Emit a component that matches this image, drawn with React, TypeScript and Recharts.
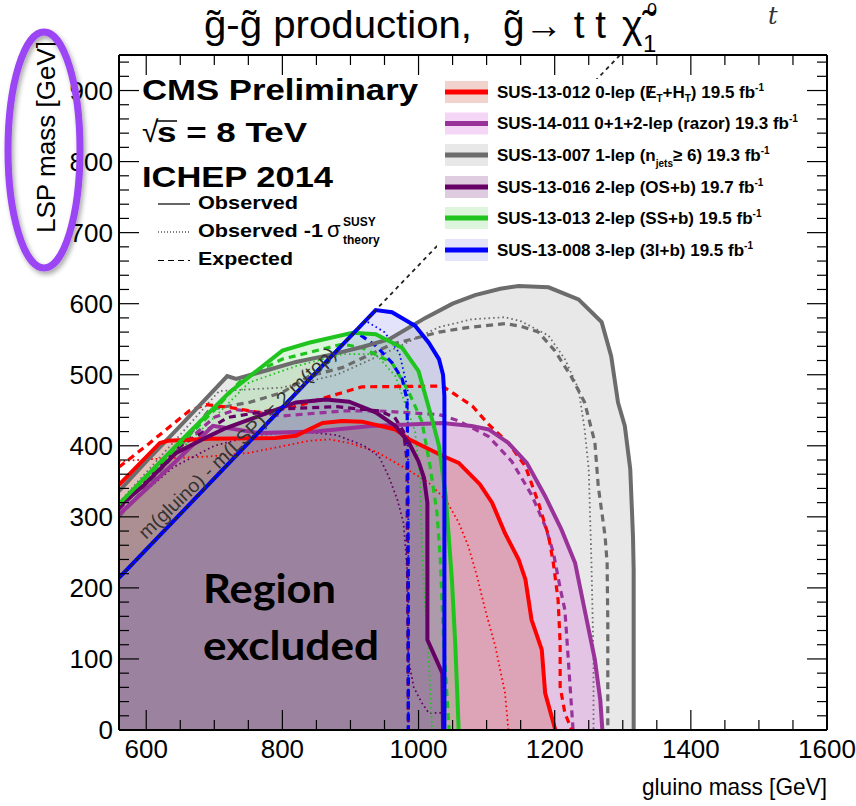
import { ComposedChart, Area, Line, XAxis, YAxis } from "recharts";

type P = [number, number];

// gluino mass, LSP mass pairs
const grayObs: P[] = [[560, 336], [600, 378], [650, 428], [719, 498], [732, 494], [780, 507], [820, 518], [870, 528], [917, 539], [957, 550], [1010, 580], [1050, 600], [1083, 612], [1120, 621], [1147, 625], [1191, 623], [1235, 606], [1269, 574], [1283, 526], [1293, 461], [1303, 428], [1311, 367], [1315, 273], [1316, 226], [1316, 0]];
const grayExp: P[] = [[560, 300], [630, 375], [693, 451], [751, 461], [800, 475], [839, 498], [888, 510], [961, 543], [1030, 560], [1069, 566], [1127, 572], [1151, 568], [1176, 560], [1200, 534], [1224, 498], [1244, 461], [1259, 405], [1264, 343], [1274, 273], [1277, 235], [1278, 150], [1278, 0]];
const grayDot: P[] = [[560, 320], [640, 405], [707, 477], [800, 482], [880, 500], [950, 530], [1030, 567], [1078, 578], [1127, 581], [1151, 575], [1191, 555], [1215, 522], [1235, 480], [1244, 423], [1250, 367], [1254, 235], [1257, 100], [1257, 0]];

const redObs: P[] = [[560, 345], [620, 404], [632, 407], [693, 410], [790, 411], [820, 414], [859, 432], [888, 435], [917, 434], [966, 423], [986, 409], [1035, 386], [1059, 376], [1090, 346], [1108, 320], [1127, 277], [1147, 240], [1157, 212], [1166, 155], [1181, 113], [1186, 52], [1201, 0]];
const redExp: P[] = [[560, 370], [600, 400], [627, 421], [663, 449], [688, 458], [722, 454], [766, 447], [815, 454], [878, 472], [917, 483], [1035, 484], [1054, 472], [1079, 456], [1103, 430], [1132, 404], [1157, 371], [1176, 320], [1191, 273], [1198, 235], [1205, 183], [1208, 122], [1208, 61], [1215, 24], [1225, 0]];
const redDot: P[] = [[560, 378], [600, 381], [693, 385], [751, 390], [839, 407], [869, 409], [898, 404], [937, 392], [976, 371], [1015, 348], [1040, 324], [1059, 292], [1073, 259], [1086, 216], [1098, 169], [1113, 117], [1127, 52], [1132, 0]];

const purpleObs: P[] = [[560, 303], [640, 375], [698, 428], [766, 418], [849, 420], [930, 428], [986, 430], [1035, 432], [1078, 428], [1103, 423], [1132, 404], [1159, 376], [1186, 329], [1210, 282], [1230, 235], [1244, 169], [1259, 99], [1267, 42], [1270, 0]];
const purpleExp: P[] = [[560, 310], [640, 390], [700, 440], [732, 451], [800, 442], [888, 449], [942, 449], [1030, 444], [1059, 435], [1103, 413], [1137, 378], [1166, 331], [1186, 287], [1198, 250], [1208, 200], [1215, 169], [1220, 99], [1224, 42], [1227, 0]];

const dpObs: P[] = [[560, 315], [595, 343], [644, 390], [693, 414], [717, 425], [766, 442], [820, 461], [864, 465], [898, 462], [937, 447], [966, 428], [986, 404], [1000, 378], [1008, 355], [1013, 320], [1013, 127], [1035, 80], [1036, 0]];
const dpExp: P[] = [[560, 312], [650, 400], [720, 440], [800, 452], [880, 455], [942, 449], [965, 440], [978, 420], [983, 380], [984, 200], [985, 0]];
const dpDot: P[] = [[560, 305], [640, 370], [700, 400], [760, 415], [830, 420], [880, 415], [920, 400], [942, 385], [956, 357], [969, 324], [978, 291], [983, 230], [985, 100], [993, 60], [1005, 38], [1015, 24], [1036, 24]];

const greenObs: P[] = [[560, 318], [658, 414], [722, 475], [800, 534], [839, 545], [903, 559], [937, 557], [976, 538], [1000, 505], [1020, 437], [1030, 400], [1040, 329], [1049, 212], [1054, 120], [1059, 0]];
const greenExp: P[] = [[560, 316], [700, 450], [741, 494], [800, 522], [888, 543], [917, 538], [961, 517], [986, 475], [1005, 434], [1017, 371], [1027, 306], [1032, 240], [1037, 122], [1044, 14], [1045, 0]];
const greenDot: P[] = [[560, 312], [700, 440], [751, 489], [820, 512], [888, 529], [937, 529], [966, 498], [980, 460], [995, 420], [1002, 353], [1005, 259], [1008, 200], [1015, 99], [1020, 0]];

const blueObs: P[] = [[560, 214], [937, 591], [961, 588], [995, 569], [1015, 545], [1030, 522], [1036, 500], [1038, 470], [1038, 0]];
const blueExp: P[] = [[560, 214], [907, 561], [937, 541], [961, 517], [976, 494], [983, 465], [984, 400], [985, 212], [985, 0]];
const blueDot: P[] = [[560, 214], [922, 576], [950, 560], [972, 530], [984, 480], [985, 300], [985, 0]];

// m(gluino) - m(LSP) = 2 m(top)
const diagonal: P[] = [[560, 214], [1296, 950]];

const xTicks = [600, 650, 700, 750, 800, 850, 900, 950, 1000, 1050, 1100, 1150, 1200, 1250, 1300, 1350, 1400, 1450, 1500, 1550, 1600];
const yTicks = [0, 20, 40, 60, 80, 100, 120, 140, 160, 180, 200, 220, 240, 260, 280, 300, 320, 340, 360, 380, 400, 420, 440, 460, 480, 500, 520, 540, 560, 580, 600, 620, 640, 660, 680, 700, 720, 740, 760, 780, 800, 820, 840, 860, 880, 900, 920, 940];

const series = [
  { key: "gray", line: "#6c6c6c", fill: "rgba(128,128,128,0.18)", obs: grayObs, exp: grayExp, dot: grayDot },
  { key: "purple", line: "#993399", fill: "rgba(215,70,215,0.22)", obs: purpleObs, exp: purpleExp, dot: null },
  { key: "red", line: "#ff0000", fill: "rgba(200,60,40,0.23)", obs: redObs, exp: redExp, dot: redDot },
  { key: "dp", line: "#660066", fill: "rgba(102,0,102,0.2)", obs: dpObs, exp: dpExp, dot: dpDot },
  { key: "green", line: "#1fc41f", fill: "rgba(60,200,60,0.18)", obs: greenObs, exp: greenExp, dot: greenDot },
  { key: "blue", line: "#0000ff", fill: "rgba(70,70,230,0.15)", obs: blueObs, exp: blueExp, dot: blueDot },
];

const legendRows = [
  { c: "red", y: 92 },
  { c: "purple", y: 123.5 },
  { c: "gray", y: 155 },
  { c: "dp", y: 187 },
  { c: "green", y: 218 },
  { c: "blue", y: 250 },
];

const FONT = "'Liberation Sans', Arial, Helvetica, sans-serif";
const pts = (a: P[]) => a.map(([x, y]) => ({ x, y }));
const byKey = (k: string) => series.find((s) => s.key === k)!;

const BottomTick = (p: any) => {
  const v = p.payload.value;
  const major = v % 200 === 0;
  return (
    <g>
      <line x1={p.x} x2={p.x} y1={p.y} y2={p.y - (major ? 20 : 10)} stroke="#000" strokeWidth={1.2} />
      {major && (
        <text x={p.x} y={p.y + 28} textAnchor="middle" fontSize={26} fontFamily={FONT} fill="#000">
          {v}
        </text>
      )}
    </g>
  );
};
const TopTick = (p: any) => {
  const major = p.payload.value % 200 === 0;
  return <line x1={p.x} x2={p.x} y1={p.y} y2={p.y + (major ? 20 : 10)} stroke="#000" strokeWidth={1.2} />;
};
const LeftTick = (p: any) => {
  const v = p.payload.value;
  const major = v % 100 === 0;
  return (
    <g>
      <line x1={p.x} x2={p.x + (major ? 20 : 10)} y1={p.y} y2={p.y} stroke="#000" strokeWidth={1.2} />
      {major && (
        <text x={113} y={p.y + 9} textAnchor="end" fontSize={26} fontFamily={FONT} fill="#000">
          {v}
        </text>
      )}
    </g>
  );
};
const RightTick = (p: any) => {
  const major = p.payload.value % 100 === 0;
  return <line x1={p.x} x2={p.x - (major ? 20 : 10)} y1={p.y} y2={p.y} stroke="#000" strokeWidth={1.2} />;
};

const ax = { stroke: "#000", strokeWidth: 2 };

export default function App() {
  return (
    <div style={{ position: "absolute", left: 0, top: 0, width: 856, height: 806, background: "#fff" }}>
      <ComposedChart width={856} height={806} margin={{ top: 54, right: 28, bottom: 75, left: 118 }}>
        <XAxis xAxisId="b" type="number" dataKey="x" domain={[560, 1600]} allowDataOverflow ticks={xTicks} interval={0} height={1} tickSize={0} tickMargin={0} tickLine={false} axisLine={ax} tick={BottomTick} />
        <XAxis xAxisId="t" orientation="top" type="number" dataKey="x" domain={[560, 1600]} allowDataOverflow ticks={xTicks} interval={0} height={1} tickSize={0} tickMargin={0} tickLine={false} axisLine={ax} tick={TopTick} />
        <YAxis yAxisId="l" type="number" dataKey="y" domain={[0, 950]} allowDataOverflow ticks={yTicks} interval={0} width={1} tickSize={0} tickMargin={0} tickLine={false} axisLine={ax} tick={LeftTick} />
        <YAxis yAxisId="r" orientation="right" type="number" dataKey="y" domain={[0, 950]} allowDataOverflow ticks={yTicks} interval={0} width={1} tickSize={0} tickMargin={0} tickLine={false} axisLine={ax} tick={RightTick} />

        {series.map((s) => (
          <Area key={"a" + s.key} xAxisId="b" yAxisId="l" data={pts(s.obs)} dataKey="y" type="linear" fill={s.fill} fillOpacity={1} stroke="none" dot={false} activeDot={false} isAnimationActive={false} />
        ))}
        {series.map((s) =>
          s.dot ? (
            <Line key={"d" + s.key} xAxisId="b" yAxisId="l" data={pts(s.dot)} dataKey="y" type="linear" stroke={s.line} strokeWidth={1.8} strokeDasharray="1.6 3" dot={false} activeDot={false} isAnimationActive={false} />
          ) : null
        )}
        {series.map((s) => (
          <Line key={"e" + s.key} xAxisId="b" yAxisId="l" data={pts(s.exp)} dataKey="y" type="linear" stroke={s.line} strokeWidth={3.2} strokeDasharray="7 5" dot={false} activeDot={false} isAnimationActive={false} />
        ))}
        {series.map((s) => (
          <Line key={"o" + s.key} xAxisId="b" yAxisId="l" data={pts(s.obs)} dataKey="y" type="linear" stroke={s.line} strokeWidth={4} dot={false} activeDot={false} isAnimationActive={false} />
        ))}
        <Line xAxisId="b" yAxisId="l" data={pts(diagonal)} dataKey="y" type="linear" stroke="#222" strokeWidth={1.8} strokeDasharray="4 4" dot={false} activeDot={false} isAnimationActive={false} />
      </ComposedChart>

      <svg width={856} height={806} style={{ position: "absolute", left: 0, top: 0, pointerEvents: "none" }} fontFamily={FONT}>
        <defs>
          <filter id="sh" x="-30%" y="-30%" width="160%" height="160%">
            <feDropShadow dx="2" dy="3" stdDeviation="2.5" floodColor="#000" floodOpacity="0.35" />
          </filter>
        </defs>

        {/* title */}
        <text x={204} y={38} fontSize={39} textLength={268} lengthAdjust="spacingAndGlyphs">{"g\u0303-g\u0303 production,"}</text>
        <text x={503} y={38} fontSize={39} textLength={103} lengthAdjust="spacingAndGlyphs">{"g\u0303\u2192 t t"}</text>
        <text x={622} y={38} fontSize={39}>{"\u03C7\u0303"}</text>
        <text x={643} y={52} fontSize={24}>1</text>
        <text x={647} y={16} fontSize={18}>0</text>
        <text x={768} y={24} fontSize={24} fontStyle="italic" fontFamily="'DejaVu Serif', serif" fill="#333">t</text>

        {/* axis titles */}
        <text x={55} y={233} fontSize={25} textLength={192} lengthAdjust="spacingAndGlyphs" transform="rotate(-90 55 233)">LSP mass [GeV]</text>
        <ellipse cx={44} cy={150} rx={36} ry={118} fill="none" stroke="#9b45f5" strokeWidth={7} filter="url(#sh)" />
        <text x={642} y={795} fontSize={24} textLength={185} lengthAdjust="spacingAndGlyphs">gluino mass [GeV]</text>

        {/* CMS label and line-style legend */}
        <text x={142} y={100} fontSize={30} fontWeight="bold" textLength={276} lengthAdjust="spacingAndGlyphs">CMS Preliminary</text>
        <text x={142} y={142} fontSize={30}>{"\u221A"}</text>
        <line x1={156} x2={177} y1={121} y2={121} stroke="#000" strokeWidth={1.5} />
        <text x={157} y={142} fontSize={27} fontWeight="bold" textLength={150} lengthAdjust="spacingAndGlyphs">s = 8 TeV</text>
        <text x={142} y={187} fontSize={30} fontWeight="bold" textLength={191} lengthAdjust="spacingAndGlyphs">ICHEP 2014</text>

        <line x1={158} x2={190} y1={204} y2={204} stroke="#000" strokeWidth={1.2} />
        <text x={198} y={209} fontSize={18.5} fontWeight="bold" textLength={100} lengthAdjust="spacingAndGlyphs">Observed</text>
        <line x1={158} x2={190} y1={232} y2={232} stroke="#000" strokeWidth={1.2} strokeDasharray="1 2" />
        <text x={198} y={237} fontSize={18.5} fontWeight="bold" textLength={125} lengthAdjust="spacingAndGlyphs">Observed -1</text>
        <text x={327} y={237} fontSize={22}>{"\u03C3"}</text>
        <text x={343} y={226} fontSize={12} fontWeight="bold">SUSY</text>
        <text x={343} y={244} fontSize={12} fontWeight="bold">theory</text>
        <line x1={158} x2={190} y1={260.5} y2={260.5} stroke="#000" strokeWidth={1.2} strokeDasharray="6 4" />
        <text x={198} y={265} fontSize={18.5} fontWeight="bold" textLength={95} lengthAdjust="spacingAndGlyphs">Expected</text>

        {/* analysis legend */}
        <rect x={437} y={79} width={368} height={182} fill="#fff" />
        {legendRows.map((r) => {
          const s = byKey(r.c);
          return (
            <g key={r.c}>
              <rect x={445} y={r.y - 11} width={43} height={22} fill={s.fill} />
              <line x1={445} x2={488} y1={r.y} y2={r.y} stroke={s.line} strokeWidth={5} />
            </g>
          );
        })}
        <g fontSize={17} fontWeight="bold">
          <text x={497} y={97.5}>
            SUS-13-012 0-lep (E<tspan dx={-9} fontWeight="normal">/</tspan>
            <tspan fontSize={10} dx={4} dy={4}>T</tspan>
            <tspan dy={-4}>+H</tspan>
            <tspan fontSize={10} dy={4}>T</tspan>
            <tspan dy={-4}>) 19.5 fb</tspan>
            <tspan fontSize={10} dy={-7}>-1</tspan>
          </text>
          <text x={497} y={129}>
            SUS-14-011 0+1+2-lep (razor) 19.3 fb<tspan fontSize={10} dy={-7}>-1</tspan>
          </text>
          <text x={497} y={160.5}>
            SUS-13-007 1-lep (n<tspan fontSize={10} dy={6}>jets</tspan>
            <tspan dy={-6}>{"\u2265 6) 19.3 fb"}</tspan>
            <tspan fontSize={10} dy={-7}>-1</tspan>
          </text>
          <text x={497} y={192.5}>
            SUS-13-016 2-lep (OS+b) 19.7 fb<tspan fontSize={10} dy={-7}>-1</tspan>
          </text>
          <text x={497} y={223.5}>
            SUS-13-013 2-lep (SS+b) 19.5 fb<tspan fontSize={10} dy={-7}>-1</tspan>
          </text>
          <text x={497} y={255.5}>
            SUS-13-008 3-lep (3l+b) 19.5 fb<tspan fontSize={10} dy={-7}>-1</tspan>
          </text>
        </g>

        {/* annotations */}
        <text x={146} y={540} fontSize={19} fill="#333" textLength={266} lengthAdjust="spacingAndGlyphs" transform="rotate(-44 146 540)">m(gluino) - m(LSP) = 2 m(top)</text>
        <g fontFamily="Lato, 'Open Sans', sans-serif" fontWeight="bold" fontSize={40}>
          <text x={203} y={603} textLength={133} lengthAdjust="spacingAndGlyphs">Region</text>
          <text x={203} y={660} textLength={176} lengthAdjust="spacingAndGlyphs">excluded</text>
        </g>
      </svg>
    </div>
  );
}
